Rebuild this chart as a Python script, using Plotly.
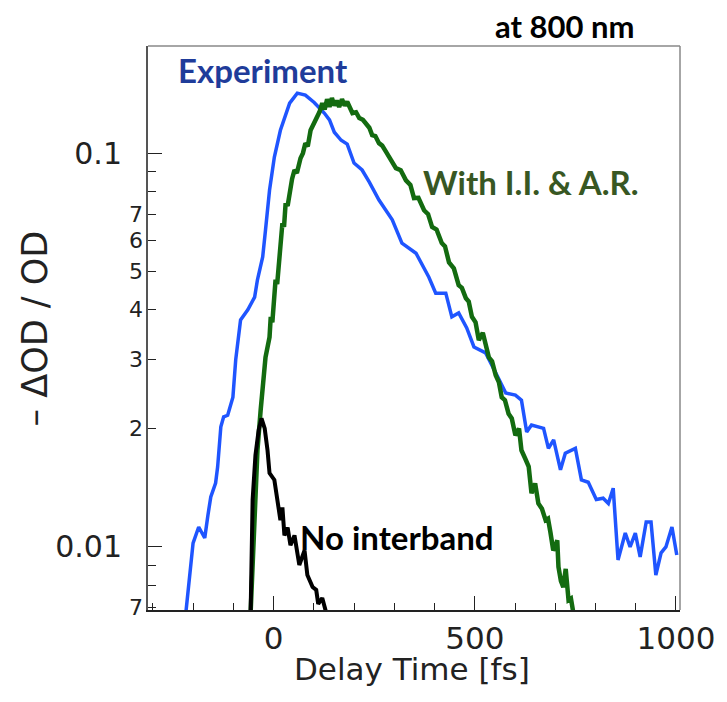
import math
import plotly.graph_objects as go

# Experiment (blue)
exp_t = [-218, -210, -200, -186, -171, -163, -156, -144, -139, -131, -124, -114, -101, -94, -82, -64, -47, -40, -27, -20,
         -10, 2, 17, 40, 59, 79, 101, 126, 139, 151, 168, 183, 200, 220, 238, 262, 295, 319, 354, 386,
         403, 428, 443, 460, 480, 498, 527, 552, 577, 601, 616, 629, 641, 671, 683, 696, 713, 725, 750, 765,
         782, 802, 819, 832, 844, 856, 874, 886, 899, 911, 926, 938, 950, 963, 975, 990, 1002]
exp_od = [0.0068, 0.00815, 0.01023, 0.01124, 0.01054, 0.01206, 0.0134, 0.01453, 0.01596, 0.0202,
          0.0214, 0.0216, 0.024, 0.0299, 0.0377, 0.04, 0.0431, 0.0477, 0.0545, 0.0638,
          0.0805, 0.0977, 0.1143, 0.1339, 0.142, 0.1404, 0.1345, 0.1264, 0.1214, 0.113,
          0.1078, 0.1054, 0.0944, 0.0906, 0.0844, 0.076, 0.0677, 0.0591, 0.0557, 0.0484,
          0.0441, 0.0441, 0.0384, 0.0393, 0.036, 0.0322, 0.0311, 0.0277, 0.0246, 0.0243,
          0.0236, 0.0196, 0.0204, 0.02, 0.0178, 0.0187, 0.0157, 0.0173, 0.0178, 0.0148,
          0.0146, 0.0132, 0.0133, 0.0129, 0.0141, 0.00927, 0.01085, 0.01, 0.01085, 0.00943,
          0.01157, 0.01157, 0.00849, 0.00966, 0.01, 0.01124, 0.00954]

# With I.I. & A.R. (green, noisy simulation)
sim_t = [-57, -52, -47, -40, -32, -27, -20, -10, -7, -3, 2, 5, 9, 15, 19, 22, 26, 30, 35, 40,
         46, 52, 58, 67, 73, 79, 85, 92, 104, 114, 121, 127, 133, 139, 145, 151, 157, 163, 170, 177,
         183, 190, 196, 205, 213, 222, 230, 238, 245, 253, 262, 270, 280, 292, 304, 316, 329, 340, 349, 360,
         374, 384, 394, 405, 418, 426, 436, 448, 460, 468, 478, 485, 493, 502, 510, 520, 535, 543, 552, 560,
         567, 575, 584, 592, 601, 610, 616, 625, 634, 641, 650, 658, 667, 676, 682, 688, 695, 700, 705, 708,
         714, 720, 726, 733, 739, 745]
sim_od = [0.0068, 0.00927, 0.0132, 0.0176, 0.0223, 0.0258, 0.0303, 0.0341, 0.0384, 0.0372,
          0.0431, 0.0477, 0.0465, 0.0534, 0.06, 0.0664, 0.065, 0.0746, 0.0735, 0.0805,
          0.086, 0.0906, 0.089, 0.0971, 0.1, 0.106, 0.104, 0.1143, 0.1214, 0.1271,
          0.1339, 0.129, 0.137, 0.131, 0.138, 0.132, 0.136, 0.131, 0.137, 0.132,
          0.135, 0.13, 0.1264, 0.127, 0.1228, 0.1215, 0.1192, 0.116, 0.1111, 0.1105,
          0.106, 0.1045, 0.1006, 0.096, 0.0916, 0.0905, 0.0853, 0.083, 0.0769, 0.077,
          0.0716, 0.07, 0.0649, 0.064, 0.0591, 0.058, 0.0528, 0.051, 0.0462, 0.0455,
          0.0428, 0.042, 0.0384, 0.0372, 0.0335, 0.035, 0.0303, 0.0296, 0.0273, 0.0262,
          0.024, 0.0236, 0.0218, 0.0212, 0.0192, 0.02, 0.0176, 0.0168, 0.016, 0.0137,
          0.0145, 0.0129, 0.0125, 0.0117, 0.0118, 0.0109, 0.0098, 0.01, 0.0104, 0.0089,
          0.0082, 0.00791, 0.0088, 0.00733, 0.0074, 0.0068]

# No interband (black)
nib_t = [-57, -52, -45, -37, -30, -22, -15, -10, 2, 10, 17, 22, 27, 35, 42, 52, 64, 77, 84, 97, 106, 111, 121, 131]
nib_od = [0.0068, 0.0132, 0.0171, 0.0198, 0.0212, 0.02, 0.0176, 0.0154, 0.0148, 0.0132, 0.0117, 0.0126,
          0.0107, 0.0112, 0.0101, 0.0107, 0.009, 0.0098, 0.00849, 0.00791, 0.00778, 0.00717, 0.00742, 0.0068]

# axis ticks
y_major = [0.01, 0.1]
y_major_text = ['0.01', '0.1']
y_minor = [0.007, 0.008, 0.009, 0.02, 0.03, 0.04, 0.05, 0.06, 0.07, 0.08, 0.09]
y_small_vals = [0.007, 0.02, 0.03, 0.04, 0.05, 0.06, 0.07]
y_small_text = ['7', '2', '3', '4', '5', '6', '7']

# the page body has an 8px margin, so the figure is shifted by that much
OFF = 8
W, H = 727 - OFF, 702 - OFF
L, T = 148 - OFF, 46 - OFF
PW, PH = 534, 564
R, B = W - L - PW, H - T - PH


def paper(x, y):
    # screenshot pixel position -> paper coords
    return (x - OFF - L) / PW, (T + PH - (y - OFF)) / PH


ink = '#222222'
label_font = 'Lato'

fig = go.Figure()

fig.add_trace(go.Scatter(x=exp_t, y=exp_od, mode='lines',
                         line=dict(color='#1f55ff', width=3.5), name='Experiment'))
fig.add_trace(go.Scatter(x=sim_t, y=sim_od, mode='lines',
                         line=dict(color='#136b10', width=4.5), name='With I.I. & A.R.'))
fig.add_trace(go.Scatter(x=nib_t, y=nib_od, mode='lines',
                         line=dict(color='black', width=4), name='No interband'))

annots = []
for v, t in zip(y_small_vals, y_small_text):
    annots.append(dict(xref='paper', yref='y', x=0, y=math.log10(v), text=t, showarrow=False,
                       xanchor='right', yanchor='middle', xshift=-3,
                       font=dict(family='DejaVu Sans', size=22, color=ink)))

# text labels: (text, x px, y px, color, size)
labels = [
    ('at 800 nm', 567, 26, 'black', 31),
    ('Experiment', 263, 70, '#1f3c9a', 33),
    ('With I.I. &amp; A.R.', 532, 182, '#385723', 33),
    ('No interband', 398, 537, 'black', 33),
]
for txt, lx, ly, col, sz in labels:
    px_, py_ = paper(lx, ly)
    annots.append(dict(xref='paper', yref='paper', x=px_, y=py_, text='<b>' + txt + '</b>',
                       showarrow=False, xanchor='center', yanchor='middle',
                       font=dict(family=label_font, size=sz, color=col)))

# axis titles
tx, ty = paper(413, 669)
annots.append(dict(xref='paper', yref='paper', x=tx, y=ty, text='Delay Time [fs]', showarrow=False,
                   xanchor='center', yanchor='middle', font=dict(family='DejaVu Sans', size=31, color=ink)))
tx, ty = paper(35, 328)
annots.append(dict(xref='paper', yref='paper', x=tx, y=ty, text='– ΔOD / OD', showarrow=False,
                   textangle=-90, xanchor='center', yanchor='middle',
                   font=dict(family='DejaVu Sans', size=35, color=ink)))

fig.update_layout(
    width=W, height=H,
    margin=dict(l=L, r=R, t=T, b=B),
    paper_bgcolor='white',
    plot_bgcolor='white',
    showlegend=False,
    annotations=annots,
    shapes=[
        dict(type='line', xref='paper', yref='paper', x0=0, x1=1, y0=1, y1=1,
             line=dict(color='#888888', width=1.5)),
        dict(type='line', xref='paper', yref='paper', x0=1, x1=1, y0=0, y1=1,
             line=dict(color='#888888', width=1.5)),
    ],
    xaxis=dict(
        range=[-312, 1010],
        showgrid=False, zeroline=False,
        showline=True, linecolor=ink, linewidth=2,
        ticks='inside', ticklen=14, tickwidth=1.2, tickcolor=ink,
        tickvals=[0, 500, 1000], ticktext=['0', '500', '1000'],
        tickfont=dict(family='DejaVu Sans', size=31, color=ink), ticklabelstandoff=0,
        minor=dict(dtick=100, tick0=0, ticks='inside', ticklen=7, tickwidth=1.2,
                   tickcolor=ink, showgrid=False),
    ),
    yaxis=dict(
        type='log',
        range=[-2.160, -0.728],
        showgrid=False, zeroline=False,
        showline=True, linecolor='#555555', linewidth=2,
        ticks='inside', ticklen=14, tickwidth=1.2, tickcolor=ink,
        tickvals=y_major, ticktext=y_major_text,
        tickfont=dict(family='DejaVu Sans', size=30, color=ink), ticklabelstandoff=18,
        minor=dict(tickvals=y_minor, ticks='inside', ticklen=8, tickwidth=1.2,
                   tickcolor=ink, showgrid=False),
    ),
)

fig.write_html("out.html")
